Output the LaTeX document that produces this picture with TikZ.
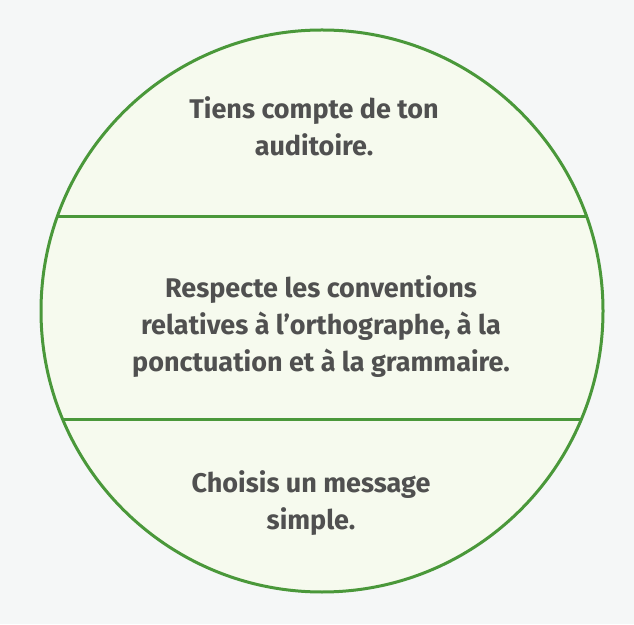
\documentclass[tikz,border=0pt]{standalone}
\usepackage{fontspec}
\setmainfont{Fira Sans}
\definecolor{bgc}{HTML}{F5F7F7}
\definecolor{ringc}{HTML}{4A983A}
\definecolor{fillc}{HTML}{F6FAEE}
\definecolor{txtc}{HTML}{505050}
\tikzset{
  ring/.style={draw=ringc, line width=3pt, fill=fillc},
  divider/.style={draw=ringc, line width=3pt},
  label/.style={text=txtc, align=center, font=\fontsize{27}{37}\selectfont\bfseries, inner sep=0pt}
}
\begin{document}
\begin{tikzpicture}[x=1pt,y=1pt]
\useasboundingbox[fill=bgc] (0,0) rectangle (634,624);
\coordinate (c) at (322,313);
\draw[ring] (c) circle (281);
\coordinate (a1) at (57.2,407);
\coordinate (a2) at (586.8,407);
\coordinate (b1) at (63,204);
\coordinate (b2) at (581,204);
\draw[divider] (a1) -- (a2);
\draw[divider] (b1) -- (b2);
\node[label] (top) at (314,497.5) {Tiens compte de ton\\auditoire.};
\node[label] (mid) at (321,297) {Respecte les conventions\\relatives à l’orthographe, à la\\ponctuation et à la grammaire.};
\node[label] (bot) at (311,120.5) {Choisis un message\\simple.};
\end{tikzpicture}
\end{document}
